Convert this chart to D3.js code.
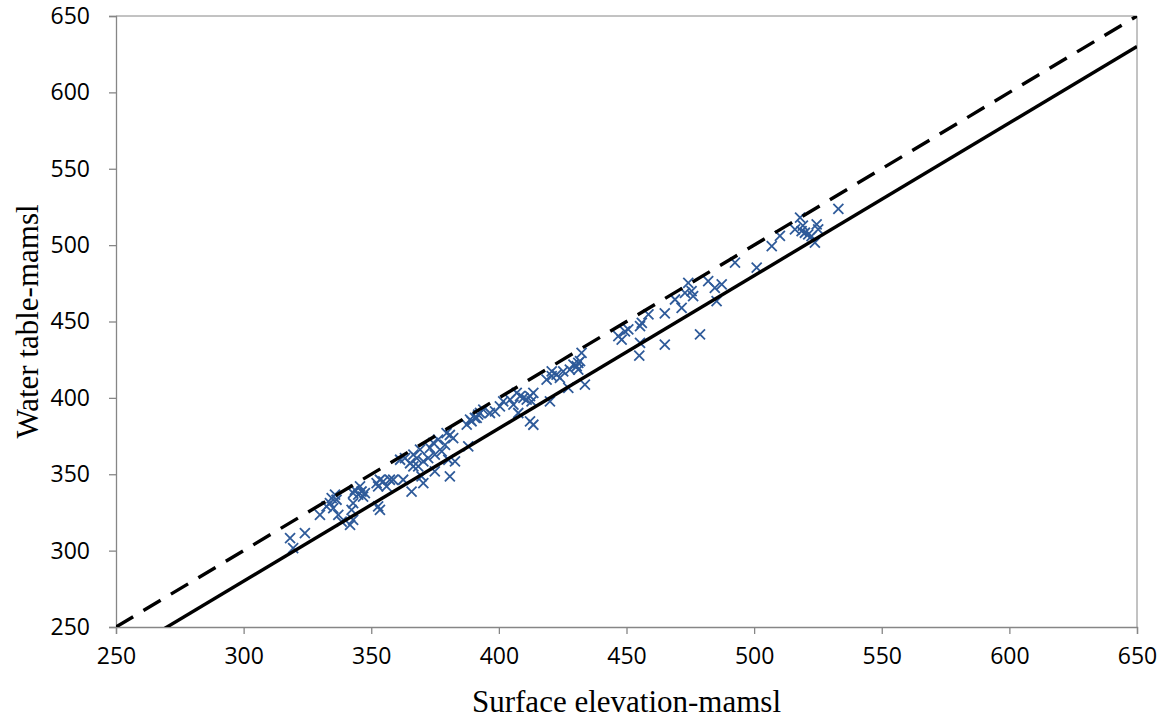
<!DOCTYPE html>
<html>
<head>
<meta charset="utf-8">
<script src="https://cdn.jsdelivr.net/npm/d3@7"></script>
<style>
    body { margin: 0; background: #fff; }
    .tick text { font-family: "Open Sans", "Liberation Sans", sans-serif; font-size: 23px; fill: #000; }
    .title { font-family: "Liberation Serif", "Times New Roman", serif; font-size: 31px; fill: #000; }
</style>
</head>
<body>
<div id="chart"></div>
<script>
// surface elevation (x) vs water table (y), both in m a.m.s.l.
const surface = [
    318.2, 319.4, 324, 329.9, 332.5, 333.8, 334.5, 335.8, 336.4, 335.1,
    337.1, 338.4, 341.7, 342.9, 342.3, 342.9, 342.9, 343.6, 344.9, 346.2,
    346.8, 345.6, 347.5, 352.1, 353.4, 352.7, 352.7, 353.4, 357.3, 354.7,
    356, 358.6, 362.5, 361.3, 363.2, 365.2, 365.8, 366.5, 367.8, 366.5,
    368.4, 369.1, 370.4, 369.7, 370.4, 372.3, 373, 374.3, 374.9, 374.9,
    376.2, 377.6, 378.9, 379.5, 380.8, 382.1, 380.8, 380.2, 382.8, 387.4,
    389.3, 391.3, 392.6, 393.9, 388, 388.7, 390.6, 391.9, 396.5, 398.5,
    400.4, 401.7, 404.4, 405.7, 407, 408.3, 409.6, 410.9, 412.2, 412.8,
    407.6, 412.2, 413.5, 413.5, 420, 418.7, 420.7, 422.6, 423.9, 425.2,
    427.2, 427.8, 430.5, 431.1, 433.7, 420.7, 429.2, 431.8, 432.4, 431.1,
    446.8, 448.1, 449.4, 450.7, 455.3, 455, 456, 455.3, 458.6, 465,
    465, 469, 471.6, 472.9, 474.2, 476.1, 475.5, 478.8, 482, 484.6,
    485.3, 487.3, 492.5, 501, 506.9, 510.1, 516, 518, 518.6, 519.1,
    519.9, 521.2, 522.5, 524.5, 525.1, 523.8, 533
];
const waterTable = [
    308.2, 301.6, 311.4, 323.4, 328.9, 331.1, 334.4, 336.6, 333.3, 327.8,
    323.4, 319, 316.9, 320.2, 326.7, 331.1, 337.7, 339.8, 336.6, 338.7,
    335.4, 342, 337.7, 344.2, 346.4, 342, 328.9, 326.7, 346.4, 345.3,
    342, 346.4, 346.4, 359.5, 360.6, 357.2, 338.6, 362.8, 360.6, 355.1,
    355.1, 366.1, 358.4, 348.6, 344.2, 360.6, 367.2, 370.5, 362.8, 351.9,
    372.6, 365, 369.3, 376.9, 375.7, 373.6, 348.6, 359.5, 358.4, 382.5,
    384.7, 386.9, 390.1, 392.3, 368.2, 385.7, 386.9, 389, 390.1, 391.2,
    394.5, 397.7, 398.9, 395.6, 403.3, 401.1, 400, 398.9, 401.1, 397.7,
    390.1, 384.6, 382.4, 403.3, 397.7, 412, 414.2, 415.2, 413.1, 417.4,
    406.5, 418.5, 420.7, 422.9, 408.7, 417.4, 421.8, 424, 429.5, 418.5,
    440.4, 438.2, 443.6, 444.8, 436, 427.7, 449.1, 447, 454.6, 434.9,
    455.3, 464.4, 458.9, 468.7, 475.3, 466.6, 469.9, 441.5, 476.4, 472,
    463.3, 474.3, 488.5, 485.2, 499.4, 506, 510.3, 518, 509.2, 512.7,
    508.1, 507, 505.9, 513.6, 510.3, 501.6, 523.8
];

// reference lines y = x + offset
const lineEnds = [250, 650];
const dashedOffset = 0;
const solidOffset = -20;

const xTicks = [250, 300, 350, 400, 450, 500, 550, 600, 650];
const yTicks = [250, 300, 350, 400, 450, 500, 550, 600, 650];

const axisColor = "#868686";
const markColor = "#2f5b9a";

let width = 1164, height = 721;
let plot = { left: 116, right: 1137, top: 16, bottom: 627 };

let svg = d3.select("#chart")
    .append("svg")
    .attr("width", width)
    .attr("height", height);

let x = d3.scaleLinear().domain([250, 650]).range([plot.left, plot.right]);
let y = d3.scaleLinear().domain([250, 650]).range([plot.bottom, plot.top]);

// plot area border (top & right)
svg.append("path")
    .attr("d", "M" + plot.left + "," + plot.top + "H" + plot.right + "V" + plot.bottom)
    .attr("fill", "none")
    .attr("stroke", axisColor)
    .attr("stroke-width", 1);

// axes
let xAxis = svg.append("g")
    .attr("transform", "translate(0," + plot.bottom + ")")
    .call(d3.axisBottom(x).tickValues(xTicks).tickSize(7).tickPadding(14).tickFormat(d3.format("d")));
let yAxis = svg.append("g")
    .attr("transform", "translate(" + plot.left + ",0)")
    .call(d3.axisLeft(y).tickValues(yTicks).tickSize(7).tickPadding(19).tickFormat(d3.format("d")));
[xAxis, yAxis].forEach(a => {
    a.select(".domain").attr("stroke", axisColor).attr("stroke-width", 1.3);
    a.selectAll(".tick line").attr("stroke", axisColor).attr("stroke-width", 1.3);
    a.attr("font-family", null).attr("font-size", null);
});

// data points as x marks
let pts = surface.map((s, i) => ({ s: s, w: waterTable[i] }));
const m = 5;
svg.append("g")
    .selectAll("path")
    .data(pts)
    .enter().append("path")
    .attr("d", d => {
        let cx = x(d.s), cy = y(d.w);
        return "M" + (cx - m) + "," + (cy - m) + "L" + (cx + m) + "," + (cy + m)
             + "M" + (cx - m) + "," + (cy + m) + "L" + (cx + m) + "," + (cy - m);
    })
    .attr("stroke", markColor)
    .attr("stroke-width", 1.8)
    .attr("fill", "none");

// reference lines, clipped to plot area
svg.append("clipPath").attr("id", "clip")
    .append("rect")
    .attr("x", plot.left).attr("y", plot.top)
    .attr("width", plot.right - plot.left).attr("height", plot.bottom - plot.top);

function refLine(offset, dash) {
    svg.append("path")
        .datum(lineEnds)
        .attr("clip-path", "url(#clip)")
        .attr("fill", "none")
        .attr("stroke", "#000")
        .attr("stroke-width", 3.4)
        .attr("stroke-dasharray", dash)
        .attr("d", d3.line()
            .x(d => x(d))
            .y(d => y(d + offset)));
}
refLine(solidOffset, null);
refLine(dashedOffset, "20,12");

// axis titles
svg.append("text")
    .attr("class", "title")
    .attr("x", (plot.left + plot.right) / 2)
    .attr("y", 712)
    .attr("text-anchor", "middle")
    .text("Surface elevation-mamsl");
svg.append("text")
    .attr("class", "title")
    .attr("transform", "translate(38," + ((plot.top + plot.bottom) / 2) + ") rotate(-90)")
    .attr("text-anchor", "middle")
    .text("Water table-mamsl");
</script>
</body>
</html>
